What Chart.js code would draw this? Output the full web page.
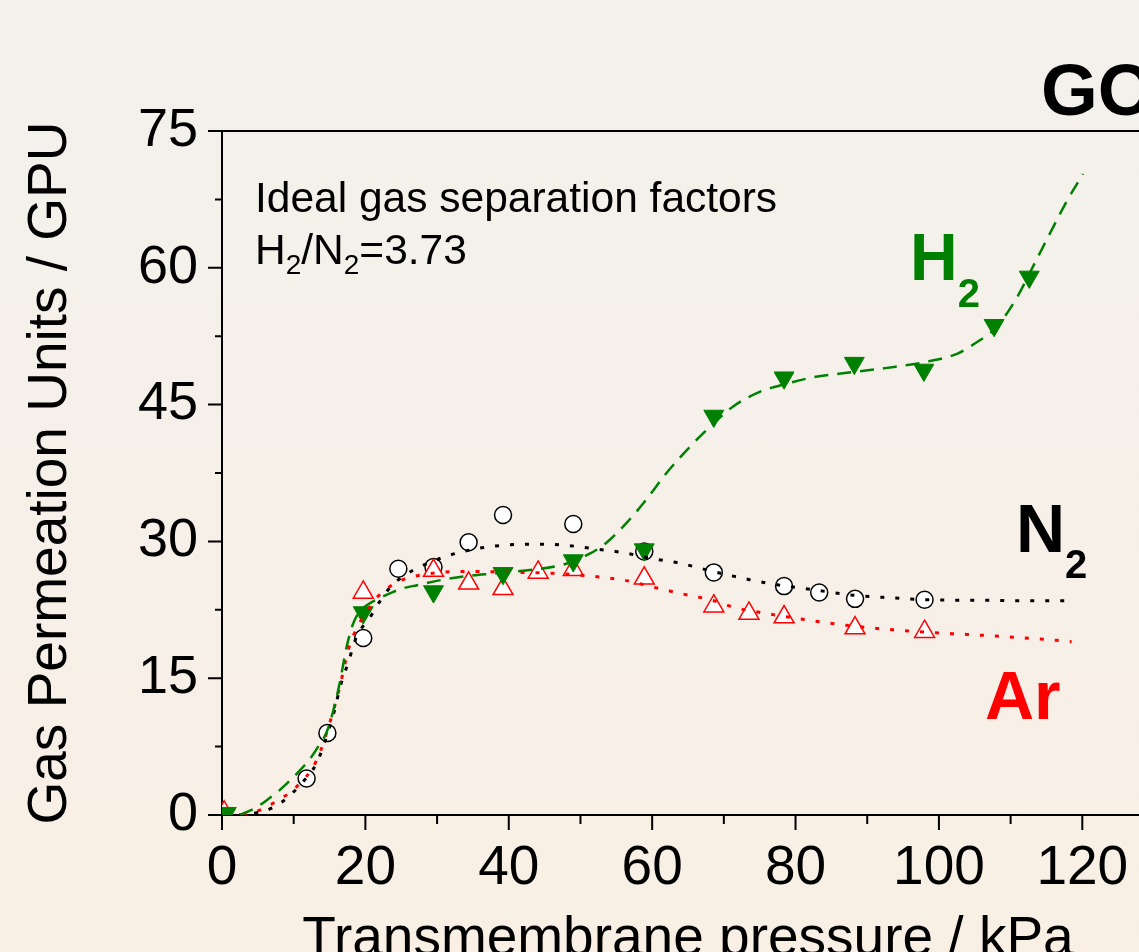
<!DOCTYPE html>
<html><head><meta charset="utf-8">
<script src="https://cdn.jsdelivr.net/npm/chart.js@4"></script>
<style>
html,body{margin:0;padding:0;width:1139px;height:952px;overflow:hidden;}
body{position:relative;background:linear-gradient(180deg,#f3f1ec 0%,#f5f0e9 45%,#f9efe4 100%);font-family:"Liberation Sans",Arial,sans-serif;}
#wrap{position:absolute;left:0;top:0;width:1160px;height:1000px;}
.lbl{position:absolute;white-space:nowrap;line-height:1;}
.sub{position:relative;}
</style></head><body>
<div id="wrap"><canvas id="c" width="1160" height="1000"></canvas></div>
<div class="lbl" style="left:255px;top:177px;font-size:42.5px;color:#000;">Ideal gas separation factors</div>
<div class="lbl" style="left:255px;top:229px;font-size:42.5px;color:#000;">H<span class="sub" style="font-size:28px;top:10px;">2</span>/N<span class="sub" style="font-size:28px;top:10px;">2</span>=3.73</div>
<div class="lbl" style="left:910px;top:224px;font-size:66px;font-weight:bold;color:#008000;">H<span class="sub" style="font-size:40px;top:27px;">2</span></div>
<div class="lbl" style="left:1016px;top:494px;font-size:68px;font-weight:bold;color:#000;">N<span class="sub" style="font-size:40px;top:26px;">2</span></div>
<div class="lbl" style="left:985px;top:661px;font-size:68px;font-weight:bold;color:#ff0000;">Ar</div>
<div class="lbl" style="left:1041px;top:53px;font-size:73px;font-weight:bold;color:#000;">GO</div>
<script>
// ---- measured points ----
const n2X = [11.8,14.7,19.7,24.6,29.5,34.4,39.2,49.0,58.9,68.6,78.4,83.3,88.3,98.0];
const n2Y = [4.0,9.0,19.4,27.0,27.2,29.9,32.9,31.9,28.9,26.6,25.1,24.4,23.7,23.6];
const arX = [0.3,19.7,29.5,34.4,39.2,44.1,49.0,58.9,68.6,73.5,78.4,88.3,98.0];
const arY = [0.3,24.4,26.8,25.4,24.8,26.6,26.9,25.95,22.9,22.1,21.7,20.5,20.1];
const h2X = [0.6,19.7,29.5,39.2,49.0,58.9,68.6,78.4,88.2,97.9,107.7,112.6];
const h2Y = [0.2,22.2,24.5,26.5,27.9,29.1,43.75,47.95,49.55,48.8,53.7,59.0];
// ---- fitted curves ----
const h2FitX = [2.5,4.5,6.2,8,9.5,11,12.5,13.5,14.6,15.8,16.5,17.4,18.3,19.2,20.2,22,23.4,25,27.2,30.8,34.1,38.3,43.4,46.7,49,50.9,52.7,53.7,56.4,59.2,62,65.3,68.1,71.3,75,78.8,82.5,86.3,92.5,98.3,102.6,105,107.9,110.7,113.1,115.5,117.9,120.1];
const h2FitY = [0,0.7,1.6,2.7,3.8,5.0,6.4,7.6,9.1,12.3,14.8,18.5,21.0,22.3,23.0,23.8,24.3,24.8,25.2,25.8,26.2,26.5,26.9,27.3,27.8,28.5,29.3,29.9,32.0,34.6,37.5,40.4,42.6,44.8,46.4,47.3,48.0,48.4,49.0,49.7,50.6,51.7,53.4,56.5,60.1,63.8,67.4,70.3];
const n2FitX = [2.4,4.5,6.2,8.5,10.9,13.2,14.8,15.7,16.5,17.6,18.8,20.6,22,23.5,25.5,27.6,31.4,35.5,39.7,43.9,47.6,51.8,55.7,60.1,63.9,68.5,73.6,77.8,82.5,88,93.6,98.3,105,112,118.5];
const n2FitY = [0,0.2,0.5,1.5,3.3,5.7,9.1,11.5,14.1,16.7,19.6,21.6,23.4,25.0,26.3,27.2,28.4,29.2,29.6,29.7,29.6,29.2,28.8,28.1,27.6,26.7,25.8,25.2,24.7,24.1,23.8,23.6,23.55,23.5,23.5];
const arFitX = [2.9,4.8,7.6,10.4,13.2,15.3,16.5,17.6,18.8,20.2,21.8,23.7,25.5,27.6,30.4,35,41.6,46.2,49.9,53.7,56.4,60.1,63.9,68.1,71.8,75.9,81.5,87.1,93.6,99.2,106.2,114.1,118.5];
const arFitY = [0.1,0.4,1.5,3.1,6.0,10.8,14.3,18.1,20.5,22.3,24.0,25.2,25.9,26.3,26.6,26.7,26.6,26.5,26.3,26.0,25.7,25.0,24.3,23.6,22.7,22.1,21.4,20.8,20.3,20.0,19.7,19.3,19.0];
// ---- axes ----
const xTickValues = [0,20,40,60,80,100,120];
const xTickLabels = ['0','20','40','60','80','100','120'];
const xMinorTicks = [10,30,50,70,90,110,130];
const yTickValues = [0,15,30,45,60,75];
const yTickLabels = ['0','15','30','45','60','75'];
const yMinorTicks = [7.5,22.5,37.5,52.5,67.5];
const xTitle = 'Transmembrane pressure / kPa';
const yTitle = 'Gas Permeation Units / GPU';

const zip = (xs, ys) => xs.map((x, i) => ({x: x, y: ys[i]}));
const GREEN = '#008000', RED = '#ff0000', BLACK = '#000000';
const FONT = '"Liberation Sans", Arial, sans-serif';

const axesPlugin = {
  id: 'axesBox',
  beforeDatasetsDraw(chart) {
    const {ctx, chartArea: a, scales: {x, y}} = chart;
    ctx.save();
    ctx.strokeStyle = '#000';
    ctx.lineWidth = 2;
    ctx.beginPath();
    ctx.rect(a.left, a.top, a.right - a.left, a.bottom - a.top);
    ctx.stroke();
    ctx.beginPath();
    xTickValues.forEach(v => { const p = x.getPixelForValue(v); ctx.moveTo(p, a.bottom); ctx.lineTo(p, a.bottom + 15); });
    xMinorTicks.forEach(v => { const p = x.getPixelForValue(v); ctx.moveTo(p, a.bottom); ctx.lineTo(p, a.bottom + 9); });
    yTickValues.forEach(v => { const p = y.getPixelForValue(v); ctx.moveTo(a.left, p); ctx.lineTo(a.left - 14, p); });
    yMinorTicks.forEach(v => { const p = y.getPixelForValue(v); ctx.moveTo(a.left, p); ctx.lineTo(a.left - 7, p); });
    ctx.stroke();
    ctx.restore();
  }
};

new Chart(document.getElementById('c'), {
  type: 'scatter',
  data: {
    datasets: [
      {label: 'H2 fit', data: zip(h2FitX, h2FitY), showLine: true, pointRadius: 0, borderColor: GREEN, borderWidth: 2.5, borderDash: [14, 9], cubicInterpolationMode: 'monotone', order: 0},
      {label: 'N2 fit', data: zip(n2FitX, n2FitY), showLine: true, pointRadius: 0, borderColor: BLACK, borderWidth: 3, borderDash: [4, 11], cubicInterpolationMode: 'monotone', order: 0},
      {label: 'Ar fit', data: zip(arFitX, arFitY), showLine: true, pointRadius: 0, borderColor: RED, borderWidth: 3, borderDash: [4, 11], cubicInterpolationMode: 'monotone', order: 0},
      {label: 'H2', data: zip(h2X, h2Y), pointStyle: 'triangle', rotation: 180, pointRadius: 11.5, backgroundColor: GREEN, borderColor: GREEN, borderWidth: 1, order: 1},
      {label: 'Ar', data: zip(arX, arY), pointStyle: 'triangle', pointRadius: 11.5, backgroundColor: '#ffffff', borderColor: RED, borderWidth: 1.5, order: 2},
      {label: 'N2', data: zip(n2X, n2Y), pointStyle: 'circle', pointRadius: 8.5, backgroundColor: '#ffffff', borderColor: BLACK, borderWidth: 1.5, order: 3}
    ]
  },
  options: {
    responsive: false,
    animation: false,
    events: [],
    devicePixelRatio: 1,
    layout: {autoPadding: false, padding: {left: 0, top: 131, right: 6, bottom: 0}},
    plugins: {legend: {display: false}, tooltip: {enabled: false}},
    scales: {
      x: {
        type: 'linear', min: 0, max: 130,
        grid: {display: false}, border: {display: false},
        afterBuildTicks: s => { s.ticks = xTickValues.map(v => ({value: v})); },
        afterFit: s => { s.height = 185; s.paddingLeft = 0; s.paddingRight = 0; },
        ticks: {color: '#000', font: {family: FONT, size: 55}, padding: 13, maxRotation: 0, autoSkip: false,
          callback: (v) => xTickLabels[xTickValues.indexOf(v)]},
        title: {display: true, text: xTitle, color: '#000', font: {family: FONT, size: 55}, padding: {top: 0, bottom: 27}}
      },
      y: {
        type: 'linear', min: 0, max: 75,
        grid: {display: false}, border: {display: false},
        afterBuildTicks: s => { s.ticks = yTickValues.map(v => ({value: v})); },
        afterFit: s => { s.width = 222; s.paddingTop = 0; s.paddingBottom = 0; },
        ticks: {color: '#000', font: {family: FONT, size: 54}, padding: 16, autoSkip: false,
          callback: (v) => yTickLabels[yTickValues.indexOf(v)]},
        title: {display: true, text: yTitle, color: '#000', font: {family: FONT, size: 55}, padding: {top: 18, bottom: 0}}
      }
    }
  },
  plugins: [axesPlugin]
});
</script>
</body></html>
